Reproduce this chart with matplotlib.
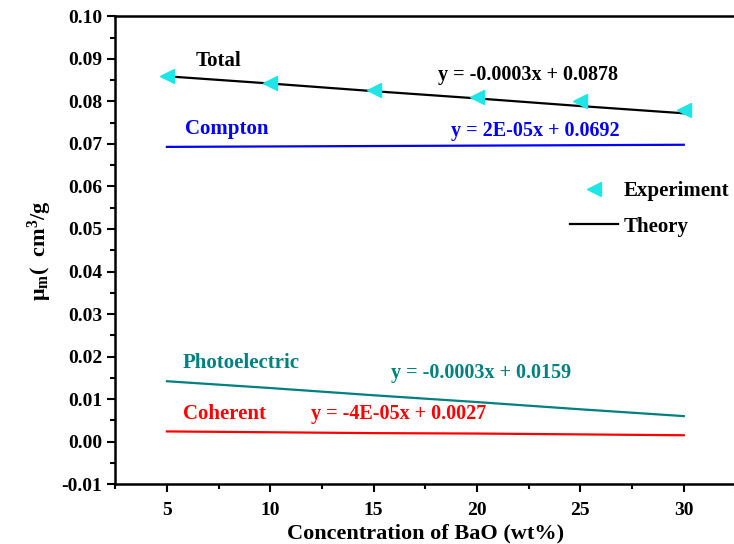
import matplotlib
matplotlib.use('Agg')
import matplotlib.pyplot as plt
from matplotlib.ticker import MultipleLocator, FormatStrFormatter

plt.rcParams['font.family'] = ['Liberation Serif', 'DejaVu Serif']
plt.rcParams['font.weight'] = 'bold'
plt.rcParams['axes.labelweight'] = 'bold'
plt.rcParams['mathtext.fontset'] = 'custom'
plt.rcParams['mathtext.rm'] = 'Liberation Serif:bold'
plt.rcParams['mathtext.it'] = 'Liberation Serif:bold'
plt.rcParams['mathtext.bf'] = 'Liberation Serif:bold'
plt.rcParams['mathtext.default'] = 'bf'

# 数据 (BaO wt%)
conc = [5, 10, 15, 20, 25, 30]
total_exp = [0.0860, 0.0844, 0.0826, 0.0810, 0.0800, 0.0779]
total_theory = [0.0859, 0.0842, 0.0824, 0.0807, 0.0789, 0.0772]
compton = [0.0693, 0.0694, 0.0695, 0.0696, 0.0697, 0.0698]
photo = [0.0142, 0.0126, 0.0109, 0.0093, 0.0076, 0.0060]
coherent = [0.0024, 0.0022, 0.0020, 0.0019, 0.0017, 0.0015]

fig = plt.figure(figsize=(7.34, 5.44), dpi=100)
ax = fig.add_axes([0.157, 0.110, 0.845, 0.860])

ax.plot(conc, total_exp, linestyle='none', marker='<', color='#1EE6E6',
        markersize=10, label='Experiment', zorder=3)
ax.plot(conc, total_theory, color='black', lw=1.6, label='Theory')
ax.plot(conc, compton, color='#0000FF', lw=1.6)
ax.plot(conc, photo, color='#008080', lw=1.6)
ax.plot(conc, coherent, color='#FF0000', lw=1.6)

fs = 15      # 曲线名称
fe = 14.5    # 拟合公式
ax.text(7.5, 0.0896, 'Total', color='black', fontsize=fs, ha='center', va='center')
ax.text(22.45, 0.0861, 'y = -0.0003x + 0.0878', color='black', fontsize=fe, ha='center', va='center')
ax.text(7.9, 0.0735, 'Compton', color='#0000FF', fontsize=fs, ha='center', va='center')
ax.text(22.8, 0.0731, 'y = 2E-05x + 0.0692', color='#0000FF', fontsize=fe, ha='center', va='center')
ax.text(8.6, 0.0184, 'Photoelectric', color='#008080', fontsize=fs, ha='center', va='center')
ax.text(20.2, 0.0161, 'y = -0.0003x + 0.0159', color='#008080', fontsize=fe, ha='center', va='center')
ax.text(7.8, 0.0066, 'Coherent', color='#FF0000', fontsize=fs, ha='center', va='center')
ax.text(16.2, 0.0064, 'y = -4E-05x + 0.0027', color='#FF0000', fontsize=fe, ha='center', va='center')

leg = ax.legend(loc='upper left', bbox_to_anchor=(0.733, 0.648), frameon=False,
                fontsize=fs, handlelength=2.3, handletextpad=0.3, labelspacing=0.75,
                borderaxespad=0, borderpad=0)

ax.set_xlim(2.5, 32.5)
ax.set_ylim(-0.01, 0.10)
ax.xaxis.set_major_locator(MultipleLocator(5))
ax.xaxis.set_minor_locator(MultipleLocator(2.5))
ax.yaxis.set_major_locator(MultipleLocator(0.01))
ax.yaxis.set_minor_locator(MultipleLocator(0.005))
ax.yaxis.set_major_formatter(FormatStrFormatter('%.2f'))
ax.tick_params(which='major', direction='out', length=6, width=1.5, labelsize=14)
ax.tick_params(axis='x', which='major', pad=7)
ax.tick_params(which='minor', direction='out', length=3.5, width=1.5)
for sp in ax.spines.values():
    sp.set_linewidth(1.8)

ax.set_xlabel('Concentration of BaO (wt%)', fontsize=16, labelpad=3)
ax.set_ylabel(r'μ$_m$(  cm$^3$/g', fontsize=16, labelpad=5)

fig.savefig('out.png', dpi=100)
